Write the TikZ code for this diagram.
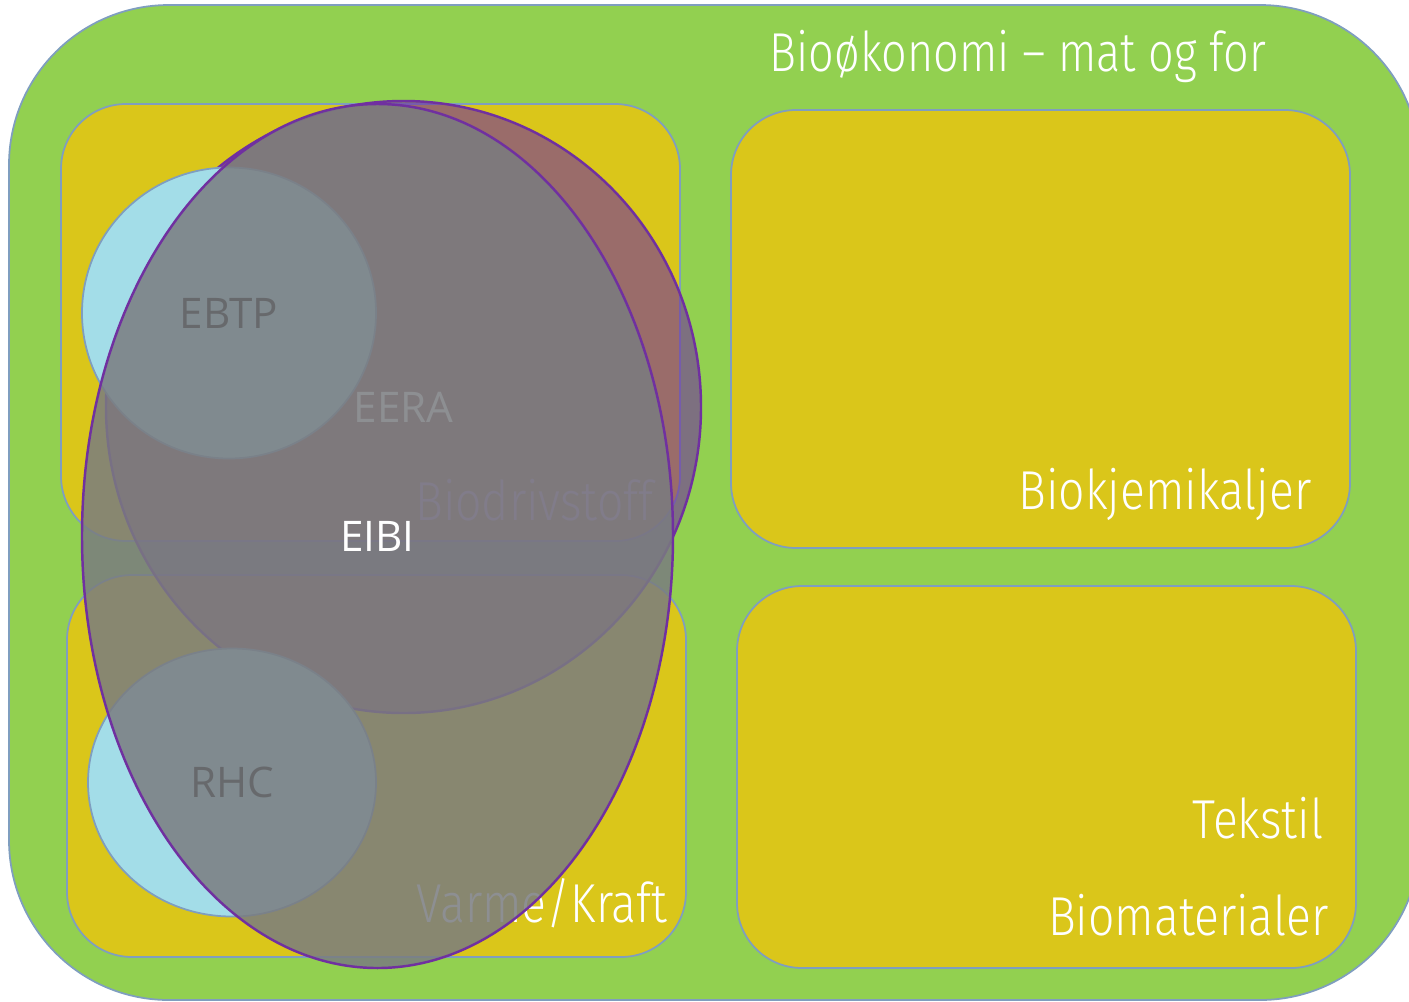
\documentclass[tikz,border=0pt]{standalone}
\usepackage{fontspec}
\newfontfamily\tynnfont{Fira Sans Light}[FakeStretch=0.845]
\newfontfamily\tittelfont{Fira Sans Light}[FakeStretch=0.82]
\newfontfamily\merkefont{Open Sans}
\definecolor{biogronn}{HTML}{92D050}
\definecolor{sektorgul}{HTML}{DAC61A}
\definecolor{lysbla}{HTML}{A3DDE8}
\definecolor{kantbla}{HTML}{7F9EBF}
\definecolor{nettlilla}{HTML}{7030A0}
\definecolor{nettgra}{HTML}{7A7C80}

\begin{document}
\begin{tikzpicture}[x=1cm,y=-1cm]
\tikzset{
  sone/.style={draw=kantbla, line width=0.5pt},
  sirkel/.style={draw=kantbla, line width=0.5pt, fill=lysbla},
  nett/.style={draw=nettlilla, line width=0.7pt},
  omrade/.style={text=white, inner sep=0pt, font=\tynnfont\fontsize{15.6}{18}\selectfont},
  forkort/.style={inner sep=0pt, font=\merkefont\fontsize{12}{14}\selectfont}
}
\useasboundingbox (0,0) rectangle (14.09,10.01);
\clip (0,0) rectangle (14.09,10.01);
\draw[sone, fill=biogronn, rounded corners=1.6cm] (0.09,0.05) rectangle (14.20,10.00);
\foreach \nm/\xa/\ya/\xb/\yb in {drivboks/0.61/1.04/6.80/5.41, kjemboks/7.31/1.10/13.50/5.48, varmeboks/0.67/5.75/6.86/9.57, tekstilboks/7.37/5.86/13.56/9.68}
{
\draw[sone, fill=sektorgul, rounded corners=0.65cm] (\xa,\ya) coordinate (\nm) rectangle (\xb,\yb);
}

\node[omrade, font=\tittelfont\fontsize{15.6}{18}\selectfont, anchor=base west] (biookonomi) at (7.69,0.71) {Bioøkonomi – mat og for};
\node[omrade, anchor=base east] (biokjemikaljer) at (13.12,5.09) {Biokjemikaljer};
\node[omrade, anchor=base east] (tekstil) at (13.24,8.38) {Tekstil};
\node[omrade, anchor=base east] (biomaterialer) at (13.29,9.35) {Biomaterialer};
\node[omrade, anchor=base east] (varmekraft) at (6.68,9.22) {Varme/Kraft};
\node[omrade, anchor=base east] (biodrivstoff) at (6.54,5.20) {Biodrivstoff};

\coordinate (EERA) at (4.035,4.07);
\coordinate (EBTP) at (2.29,3.13);
\coordinate (RHC) at (2.32,7.825);
\coordinate (EIBI) at (3.775,5.36);

\draw[nett, fill=nettlilla, fill opacity=0.6] (EERA) ellipse [x radius=2.975cm, y radius=3.06cm];
\node[forkort, text=white] (eera) at (EERA) {EERA};
\draw[sirkel] (EBTP) ellipse [x radius=1.47cm, y radius=1.455cm];
\node[forkort, text=black] (ebtp) at (EBTP) {EBTP};
\draw[sirkel] (RHC) ellipse [x radius=1.44cm, y radius=1.34cm];
\node[forkort, text=black] (rhc) at (RHC) {RHC};
\draw[nett, fill=nettgra, fill opacity=0.85] (EIBI) ellipse [x radius=2.955cm, y radius=4.32cm];
\node[forkort, text=white] (eibi) at (EIBI) {EIBI};

\end{tikzpicture}
\end{document}
